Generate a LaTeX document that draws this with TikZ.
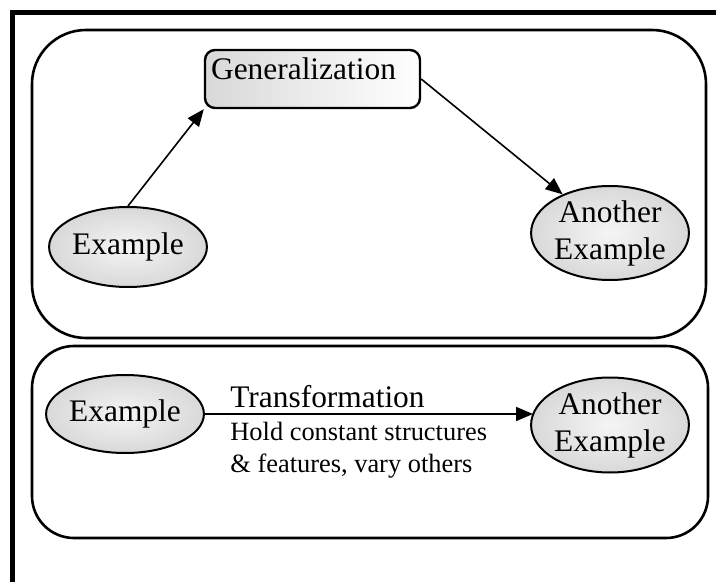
\documentclass[tikz,border=0pt]{standalone}
\usepackage{fontspec}
\setmainfont{Liberation Serif}
\usetikzlibrary{arrows.meta,shapes.geometric}

\tikzset{
  panel/.style={draw=black, line width=1.3pt},
  oval/.style={ellipse, draw=black, line width=1pt, inner sep=0pt,
    inner color=black!4, outer color=black!15, align=center,
    font=\fontsize{15.7}{18.5}\selectfont},
  genbox/.style={rectangle, rounded corners=5pt, draw=black, line width=1.2pt,
    left color=black!15, right color=white, inner sep=0pt},
  bigtext/.style={inner sep=0pt, font=\fontsize{15.7}{18.5}\selectfont},
  smalltext/.style={inner sep=0pt, font=\fontsize{13.2}{16}\selectfont},
  link/.style={draw=black, line width=0.8pt, -{Triangle[length=8.5pt,width=7pt]}}
}

\begin{document}
\begin{tikzpicture}[x=0.5pt,y=-0.5pt]
  \useasboundingbox (0,0) rectangle (716,582);

  % outer frame (top and left edges)
  \draw[line width=2.2pt] (716,12.5) -- (12.5,12.5) -- (12.5,582);

  % the two panels
  \draw[panel, rounded corners=27pt] (32,30) rectangle (706,338);
  \draw[panel, rounded corners=21pt] (32,346) rectangle (708,538);

  % upper panel: generalization
  \node[genbox, minimum width=107.5pt, minimum height=29pt] (gen) at (312.5,79) {};
  \node[bigtext, anchor=base] (genlabel) at (303.5,80) {Generalization};
  \node[oval, minimum width=78pt, minimum height=40pt] (ex1) at (128,247) {Example};
  \node[oval, minimum width=78pt, minimum height=47pt] (ae1) at (610,233) {Another\\Example};

  \draw[link] (ex1.north) -- (gen.south west);
  \draw[link] (gen.east) -- (ae1);

  % lower panel: transformation
  \node[oval, minimum width=75pt, minimum height=39pt] (ex2) at (125,414) {Example};
  \node[oval, minimum width=77.5pt, minimum height=47.5pt] (ae2) at (610,425) {Another\\Example};
  \coordinate (tip) at (533,414);
  \draw[link] (ex2.east) -- (tip);

  \node[bigtext, anchor=base west] (trans) at (230,407) {Transformation};
  \node[smalltext, anchor=base west] (hold1) at (230,440) {Hold constant structures};
  \node[smalltext, anchor=base west] (hold2) at (230,472) {\& features, vary others};
\end{tikzpicture}
\end{document}
